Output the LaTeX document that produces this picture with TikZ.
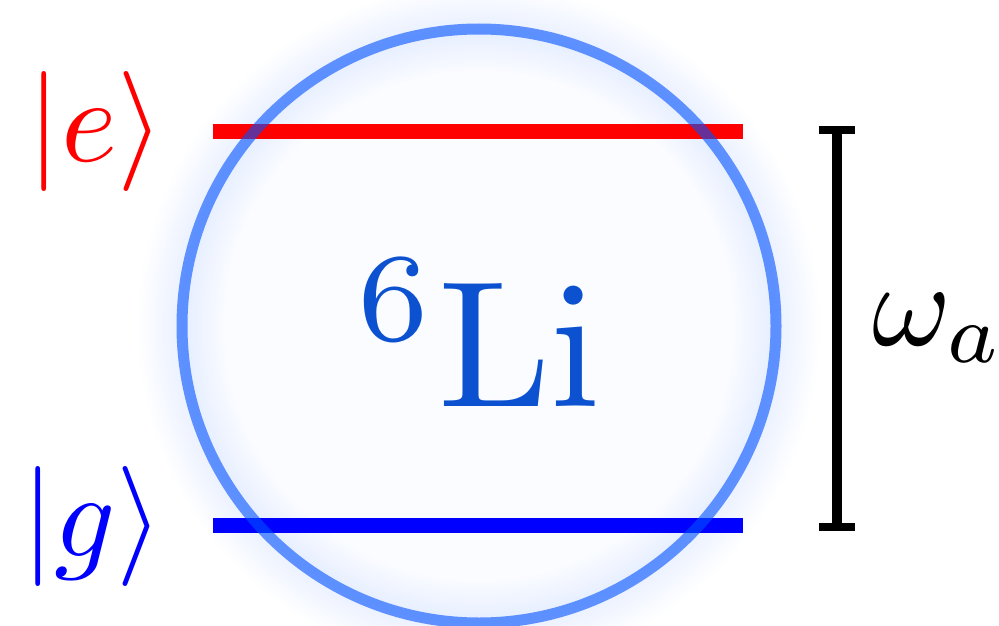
\documentclass[tikz,border=0pt]{standalone}
\usepackage{graphicx}
\definecolor{ringblue}{RGB}{0,80,255}
\definecolor{liblue}{RGB}{12,82,208}
\definecolor{kred}{RGB}{255,0,0}
\definecolor{kblue}{RGB}{0,0,255}
\newcommand{\bigtxt}[1]{\scalebox{12}{#1}}
\newcommand{\hugetxt}[1]{\scalebox{18}{#1}}
\begin{document}
\begin{tikzpicture}[x=1pt,y=-1pt,
  bigfont/.style={inner sep=0pt},
  level/.style={line width=15pt},
  glow/.style={ringblue, opacity=0.0045}]
\useasboundingbox (0,0) rectangle (999,626);
\coordinate (c) at (479,326);
% glow around the atom
\fill[ringblue, opacity=0.015] (c) circle[radius=297];
\foreach \w in {4,8,...,88}{
  \draw[glow, line width=\w pt] (c) circle[radius=297];
}
% energy levels
\coordinate (e1) at (213,131);
\coordinate (e2) at (743,131);
\coordinate (g1) at (213,525);
\coordinate (g2) at (743,525);
\draw[level, kred] (e1) -- (e2);
\draw[level, kblue] (g1) -- (g2);
% atom ring
\draw[ringblue, opacity=0.6, line width=11pt] (c) circle[radius=297];
% gap marker
\coordinate (t) at (837,130);
\coordinate (b) at (837,527);
\draw[line width=10pt] (t) -- (b);
\draw[line width=8pt] ([xshift=-18pt]t) -- ([xshift=18pt]t);
\draw[line width=8pt] ([xshift=-18pt]b) -- ([xshift=18pt]b);
% labels
\node[bigfont, text=kred, anchor=east] (kete) at (164,131) {\bigtxt{$|e\rangle$}};
\node[bigfont, text=kblue, anchor=east] (ketg) at (163,526) {\bigtxt{$|g\rangle$}};
\node[bigfont, text=liblue, anchor=base] (li) at (479,406) {\hugetxt{$^{6}\mathrm{Li}$}};
\node[bigfont, anchor=base west] (omega) at (872,345) {\bigtxt{$\omega_a$}};
\end{tikzpicture}
\end{document}
